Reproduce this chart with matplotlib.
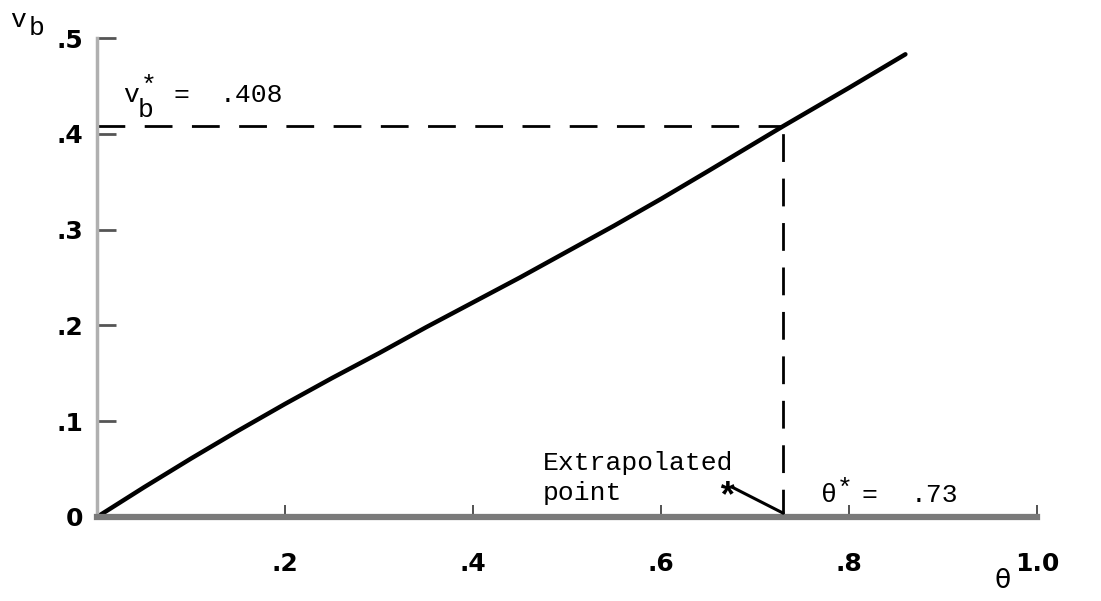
import matplotlib.pyplot as plt

# curve
theta = [0, 0.05, 0.1, 0.15, 0.2, 0.25, 0.3, 0.35, 0.4, 0.45, 0.5, 0.55, 0.6, 0.65, 0.73, 0.8, 0.86]
vb = [0, 0.031, 0.061, 0.090, 0.118, 0.145, 0.171, 0.198, 0.224, 0.250, 0.277, 0.304, 0.332, 0.361,
      0.408, 0.448, 0.483]

theta_star = 0.73
vb_star = 0.408

xticks = [0.2, 0.4, 0.6, 0.8, 1.0]
xtick_labels = ['.2', '.4', '.6', '.8', '1.0']
yticks = [0, 0.1, 0.2, 0.3, 0.4, 0.5]
ytick_labels = ['0', '.1', '.2', '.3', '.4', '.5']

mono = 'Liberation Mono'
fs = 19

fig = plt.figure(figsize=(11.01, 6.01), dpi=100)
ax = fig.add_axes([97/1101, 84/601, 940/1101, 479/601])

ax.plot(theta, vb, color='black', lw=3.2, solid_capstyle='round', solid_joinstyle='round', clip_on=False)
ax.plot([0, theta_star], [vb_star, vb_star], color='black', lw=2, dashes=(10, 7))
ax.plot([theta_star, theta_star], [0, vb_star], color='black', lw=2, dashes=(10, 6))

ax.set_xlim(0, 1.0)
ax.set_ylim(0, 0.5)
ax.spines['top'].set_visible(False)
ax.spines['right'].set_visible(False)
ax.spines['left'].set_color('#b0b0b0')
ax.spines['left'].set_linewidth(2.5)
ax.spines['left'].set_linestyle((0, (3, 1)))
ax.spines['bottom'].set_color('#7a7a7a')
ax.spines['bottom'].set_linewidth(4.5)

ax.set_xticks(xticks, xtick_labels)
ax.set_yticks(yticks, ytick_labels)
ax.tick_params(axis='x', direction='in', length=9, width=1.3, color='#444444', pad=25, labelsize=18)
ax.tick_params(axis='y', direction='in', length=14, width=2, color='#555555', pad=10, labelsize=18)
for lab in ax.get_xticklabels() + ax.get_yticklabels():
    lab.set_fontweight('bold')

# axis names, typed with full-size sub/superscripts as on a typewriter
ax.text(-0.0926, 0.5115, 'v', family=mono, fontsize=fs, va='baseline')
ax.text(-0.0723, 0.503, 'b', family=mono, fontsize=fs, va='baseline')
ax.text(0.963, -0.067, 'θ', fontsize=19, ha='center', va='center')

# v_b* = .408
ax.text(0.028, 0.433, 'v', family=mono, fontsize=fs, va='baseline')
ax.text(0.0436, 0.4175, 'b', family=mono, fontsize=fs, va='baseline')
ax.text(0.047, 0.4426, '*', family=mono, fontsize=fs, va='baseline')
ax.text(0.0814, 0.433, '=', family=mono, fontsize=fs, va='baseline')
ax.text(0.130, 0.433, '.408', family=mono, fontsize=fs, va='baseline')

# theta* = .73
ax.text(0.7702, 0.0157, 'θ', family=mono, fontsize=fs, va='baseline')
ax.text(0.787, 0.0219, '*', family=mono, fontsize=fs, va='baseline')
ax.text(0.8138, 0.0157, '=', family=mono, fontsize=fs, va='baseline')
ax.text(0.866, 0.0157, '.73', family=mono, fontsize=fs, va='baseline')

ax.text(0.474, 0.049, 'Extrapolated', family=mono, fontsize=fs, va='baseline')
ax.text(0.474, 0.018, 'point', family=mono, fontsize=fs, va='baseline')
ax.text(0.670, 0.020, '*', family=mono, fontsize=26, fontweight='bold', ha='center', va='center')
ax.annotate('', xy=(theta_star, 0.004), xytext=(0.676, 0.031),
            arrowprops=dict(arrowstyle='-', color='black', lw=2.2, shrinkA=0, shrinkB=0))

fig.savefig('out.png', dpi=100)
